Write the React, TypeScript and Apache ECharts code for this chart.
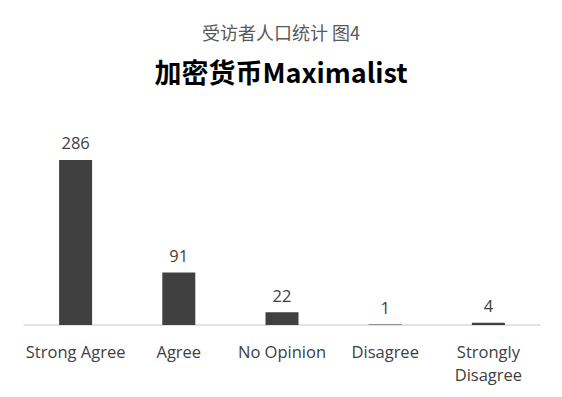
import React, { useEffect, useRef } from "react";
import * as echarts from "echarts";

const categories = ["Strong Agree", "Agree", "No Opinion", "Disagree", "Strongly\nDisagree"];
const values = [286, 91, 22, 1, 4];
const subtitle = "受访者人口统计 图4";
const title = "加密货币Maximalist";

export default function App() {
  const ref = useRef<HTMLDivElement>(null);
  useEffect(() => {
    const chart = echarts.init(ref.current!, null, { renderer: "svg" });
    const font = "'Open Sans', 'Noto Sans CJK SC', sans-serif";
    const tfont = "'Noto Sans CJK SC', sans-serif";
    chart.setOption({
      animation: false,
      backgroundColor: "#ffffff",
      title: [
        {
          text: subtitle,
          left: "center",
          top: 18,
          textStyle: { fontSize: 18, fontWeight: "normal", color: "#595959", fontFamily: tfont },
        },
        {
          text: title,
          left: "center",
          top: 53,
          textStyle: { fontSize: 27, fontWeight: "bold", color: "#000000", fontFamily: tfont },
        },
      ],
      grid: { left: 24, right: 22, top: 152, bottom: 72 },
      xAxis: {
        type: "category",
        data: categories,
        axisLine: { lineStyle: { color: "#d9d9d9", width: 1.5 } },
        axisTick: { show: false },
        axisLabel: {
          color: "#404040",
          fontSize: 16.5,
          fontFamily: font,
          margin: 15,
          lineHeight: 23,
          interval: 0,
        },
      },
      yAxis: {
        type: "value",
        min: 0,
        max: 300,
        show: false,
        splitLine: { show: false },
      },
      series: [
        {
          type: "bar",
          data: values,
          barWidth: 33,
          itemStyle: { color: "#404040" },
          label: {
            show: true,
            position: "top",
            distance: 9,
            color: "#404040",
            fontSize: 16.5,
            fontFamily: font,
          },
        },
      ],
    });
    return () => chart.dispose();
  }, []);
  return <div ref={ref} style={{ width: 562, height: 397, position: "absolute", left: 0, top: 0 }} />;
}
